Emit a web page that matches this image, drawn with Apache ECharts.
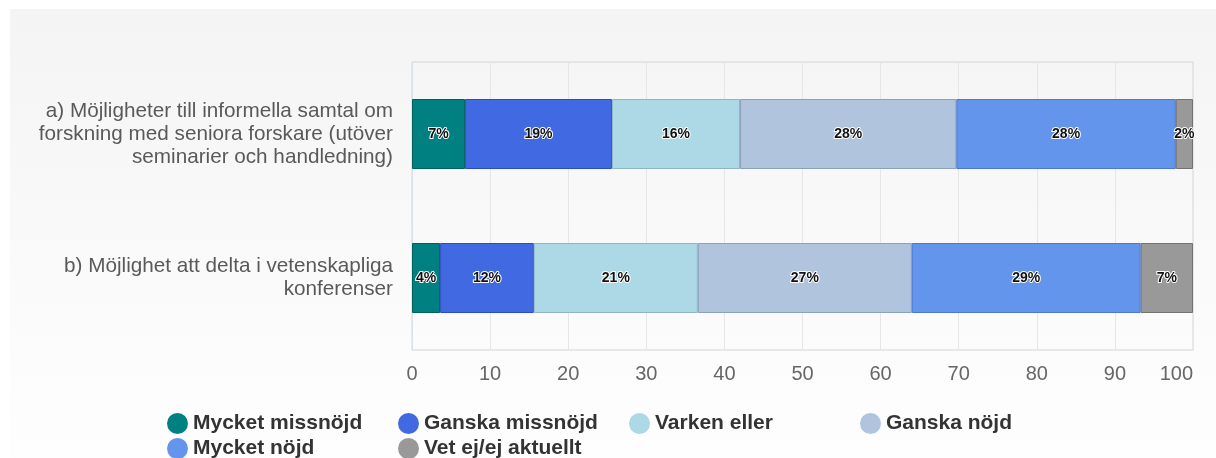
<!DOCTYPE html>
<html>
<head>
<meta charset="utf-8">
<script src="https://cdn.jsdelivr.net/npm/echarts@6/dist/echarts.min.js"></script>
<style>
  html, body { margin: 0; padding: 0; background: #fff; }
  #chart { width: 1216px; height: 458px; }
</style>
</head>
<body>
<div id="chart"></div>
<script>
// categories (top to bottom)
var categories = [
    'a) Möjligheter till informella samtal om\nforskning med seniora forskare (utöver\nseminarier och handledning)',
    'b) Möjlighet att delta i vetenskapliga\nkonferenser'
];
var seriesNames = ['Mycket missnöjd', 'Ganska missnöjd', 'Varken eller', 'Ganska nöjd', 'Mycket nöjd', 'Vet ej/ej aktuellt'];
// percent per category, one array per answer
var mycketMissnojd = [6.8, 3.6];
var ganskaMissnojd = [18.8, 12.0];
var varkenEller = [16.4, 21.0];
var ganskaNojd = [27.7, 27.4];
var mycketNojd = [28.1, 29.3];
var vetEj = [2.2, 6.7];
var xTicks = [0, 100, 10]; // min, max, interval

var colors = ['#008080', '#4169e1', '#add8e6', '#b0c4de', '#6495ed', '#999999'];
var borders = ['#005f5f', '#2a4cc4', '#8cb6c6', '#8d9fbb', '#4a78d2', '#727272'];
var allValues = [mycketMissnojd, ganskaMissnojd, varkenEller, ganskaNojd, mycketNojd, vetEj];

var myChart = echarts.init(document.getElementById('chart'));

var series = seriesNames.map(function (name, i) {
    return {
        name: name,
        type: 'bar',
        stack: 'total',
        barWidth: 70,
        data: allValues[i],
        itemStyle: {
            color: colors[i],
            borderColor: borders[i],
            borderWidth: 1
        },
        label: {
            show: true,
            position: 'inside',
            formatter: function (p) { return Math.round(p.value) + '%'; },
            fontFamily: 'Liberation Sans, Arial, sans-serif',
            fontWeight: 'bold',
            fontSize: 14,
            color: '#111',
            textBorderColor: '#fff',
            textBorderWidth: 2
        }
    };
});

var option = {
    animation: false,
    textStyle: { fontFamily: 'Liberation Sans, Arial, sans-serif' },
    graphic: [{
        type: 'rect',
        z: -10,
        shape: { x: 10, y: 9, width: 1206, height: 449 },
        style: {
            fill: new echarts.graphic.LinearGradient(0, 0, 0, 1, [
                { offset: 0, color: '#f4f4f4' },
                { offset: 1, color: '#fefefe' }
            ])
        }
    }],
    grid: {
        left: 412,
        right: 23,
        top: 62,
        bottom: 108,
        show: true,
        borderColor: '#d4d4d4',
        borderWidth: 1,
        backgroundColor: 'transparent'
    },
    legend: {
        left: 162,
        top: 408,
        width: 940,
        itemWidth: 21,
        itemHeight: 21,
        itemGap: 4,
        itemTextGap: 5,
        icon: 'circle',
        itemStyle: { borderWidth: 0 },
        textStyle: {
            fontFamily: 'Liberation Sans, Arial, sans-serif',
            fontWeight: 'bold',
            fontSize: 21,
            color: '#333',
            width: 201,
            lineHeight: 21
        },
        data: seriesNames
    },
    xAxis: {
        type: 'value',
        min: xTicks[0],
        max: xTicks[1],
        interval: xTicks[2],
        axisLine: { show: false },
        axisTick: { show: false },
        splitLine: { lineStyle: { color: '#e6e6e6', width: 1 } },
        axisLabel: {
            margin: 14,
            fontSize: 20,
            color: '#666',
            alignMaxLabel: 'right'
        }
    },
    yAxis: {
        type: 'category',
        inverse: true,
        data: categories,
        axisLine: { show: true, lineStyle: { color: '#dbe1ec' } },
        axisTick: { show: false },
        axisLabel: {
            margin: 19,
            fontSize: 20.7,
            lineHeight: 23,
            color: '#595959',
            align: 'right'
        }
    },
    series: series
};

myChart.setOption(option);
window.addEventListener('resize', function () {
    myChart.resize();
});
</script>
</body>
</html>
